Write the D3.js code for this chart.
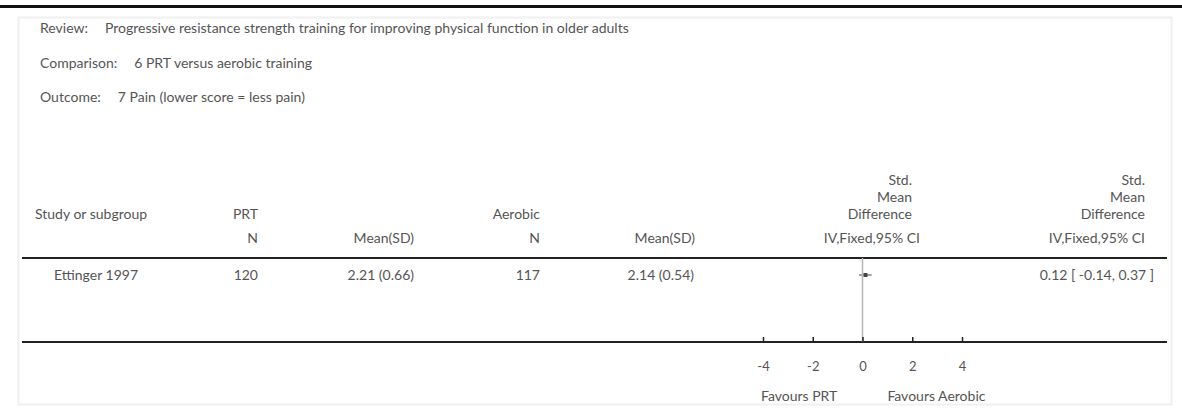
<!DOCTYPE html>
<html>
<head>
<meta charset="utf-8">
<script src="https://cdn.jsdelivr.net/npm/d3@7"></script>
<style>
  html, body { margin: 0; padding: 0; background: #fff; }
  svg text { font-family: Lato, "Open Sans", sans-serif; font-size: 14px; fill: #555; }
</style>
</head>
<body>
<div id="chart"></div>
<script>
// En-tête de la revue
const titleLabels = ["Review:", "Comparison:", "Outcome:"];
const titleValues = [
  "Progressive resistance strength training for improving physical function in older adults",
  "6 PRT versus aerobic training",
  "7 Pain (lower score = less pain)"
];

// Études
const studies = ["Ettinger 1997"];
const prtN = [120];
const prtMeanSD = ["2.21 (0.66)"];
const aerobicN = [117];
const aerobicMeanSD = ["2.14 (0.54)"];
const smd = [0.12];
const ciLow = [-0.14];
const ciHigh = [0.37];
const ciLabels = ["0.12 [ -0.14, 0.37 ]"];

// Axe
const axisTicks = [-4, -2, 0, 2, 4];
const favoursLeft = "Favours PRT";
const favoursRight = "Favours Aerobic";

const width = 1182, height = 410;

const svg = d3.select("#chart").append("svg")
  .attr("width", width)
  .attr("height", height);

// Filet du haut + cadre léger
svg.append("rect")
  .attr("x", 0).attr("y", 5)
  .attr("width", width).attr("height", 3)
  .attr("fill", "#111");

svg.append("rect")
  .attr("x", 18.5).attr("y", 17.5)
  .attr("width", 1153).attr("height", 387)
  .attr("fill", "none")
  .attr("stroke", "#f0f0f0")
  .attr("stroke-width", 2);

// Titres
const titleY = d3.scalePoint().domain(d3.range(3)).range([33, 102]);
titleLabels.forEach((lab, i) => {
  const t = svg.append("text")
    .attr("x", 40)
    .attr("y", titleY(i));
  t.append("tspan").text(lab);
  t.append("tspan").attr("dx", 17).text(titleValues[i]);
});

// Colonnes du tableau
const rowHeadY = 219, rowSubY = 243;
const headers = [
  { x: 35, y: rowHeadY, anchor: "start", text: "Study or subgroup" },
  { x: 258, y: rowHeadY, anchor: "end", text: "PRT" },
  { x: 258, y: rowSubY, anchor: "end", text: "N" },
  { x: 414, y: rowSubY, anchor: "end", text: "Mean(SD)" },
  { x: 540, y: rowHeadY, anchor: "end", text: "Aerobic" },
  { x: 540, y: rowSubY, anchor: "end", text: "N" },
  { x: 695, y: rowSubY, anchor: "end", text: "Mean(SD)" },
  { x: 912, y: rowHeadY - 34, anchor: "end", text: "Std." },
  { x: 912, y: rowHeadY - 17, anchor: "end", text: "Mean" },
  { x: 912, y: rowHeadY, anchor: "end", text: "Difference" },
  { x: 920, y: rowSubY, anchor: "end", text: "IV,Fixed,95% CI" },
  { x: 1145, y: rowHeadY - 34, anchor: "end", text: "Std." },
  { x: 1145, y: rowHeadY - 17, anchor: "end", text: "Mean" },
  { x: 1145, y: rowHeadY, anchor: "end", text: "Difference" },
  { x: 1145, y: rowSubY, anchor: "end", text: "IV,Fixed,95% CI" }
];

svg.selectAll(".hdr")
  .data(headers)
  .enter().append("text")
  .attr("class", "hdr")
  .attr("x", d => d.x)
  .attr("y", d => d.y)
  .attr("text-anchor", d => d.anchor)
  .text(d => d.text);

// Filets du tableau
const ruleTop = 258, ruleBottom = 342;
[ruleTop, ruleBottom].forEach(yy => {
  svg.append("line")
    .attr("x1", 22).attr("x2", 1167)
    .attr("y1", yy).attr("y2", yy)
    .attr("stroke", "#222")
    .attr("stroke-width", 2);
});

// Lignes d'études
const y = d3.scaleBand()
  .domain(studies)
  .range([ruleTop + 6, ruleTop + 28]);

const rows = svg.selectAll(".row")
  .data(studies)
  .enter().append("g")
  .attr("class", "row")
  .attr("transform", d => `translate(0,${y(d) + y.bandwidth() / 2})`);

rows.append("text").attr("x", 54).attr("dy", "0.35em").text(d => d);
rows.append("text").attr("x", 258).attr("dy", "0.35em").attr("text-anchor", "end").text((d, i) => prtN[i]);
rows.append("text").attr("x", 414).attr("dy", "0.35em").attr("text-anchor", "end").text((d, i) => prtMeanSD[i]);
rows.append("text").attr("x", 540).attr("dy", "0.35em").attr("text-anchor", "end").text((d, i) => aerobicN[i]);
rows.append("text").attr("x", 694).attr("dy", "0.35em").attr("text-anchor", "end").text((d, i) => aerobicMeanSD[i]);
rows.append("text").attr("x", 1154).attr("dy", "0.35em").attr("text-anchor", "end").text((d, i) => ciLabels[i]);

// Échelle du forest plot
const x = d3.scaleLinear().domain([-4, 4]).range([763, 962]);

// Ligne de non-effet
svg.append("line")
  .attr("x1", x(0)).attr("x2", x(0))
  .attr("y1", ruleTop).attr("y2", ruleBottom)
  .attr("stroke", "#b5b5b5")
  .attr("stroke-width", 1.5);

// IC + carré
rows.append("line")
  .attr("x1", (d, i) => x(ciLow[i]))
  .attr("x2", (d, i) => x(ciHigh[i]))
  .attr("stroke", "#444")
  .attr("stroke-width", 1);

rows.append("rect")
  .attr("x", (d, i) => x(smd[i]) - 2)
  .attr("y", -2)
  .attr("width", 4).attr("height", 4)
  .attr("fill", "#444");

// Axe
const axis = svg.append("g")
  .attr("transform", `translate(0,${ruleBottom})`)
  .call(d3.axisBottom(x)
    .tickValues(axisTicks)
    .tickFormat(d => String(d))
    .tickSize(-5)
    .tickPadding(20));

axis.select(".domain").remove();
axis.selectAll(".tick line").attr("stroke", "#222").attr("stroke-width", 1.5);
axis.selectAll(".tick text")
  .attr("fill", "#555")
  .style("font-family", "Lato, sans-serif")
  .style("font-size", "13px");

svg.append("text")
  .attr("x", x(-4) - 2)
  .attr("y", 401)
  .text(favoursLeft);

svg.append("text")
  .attr("x", x(1))
  .attr("y", 401)
  .text(favoursRight);
</script>
</body>
</html>
